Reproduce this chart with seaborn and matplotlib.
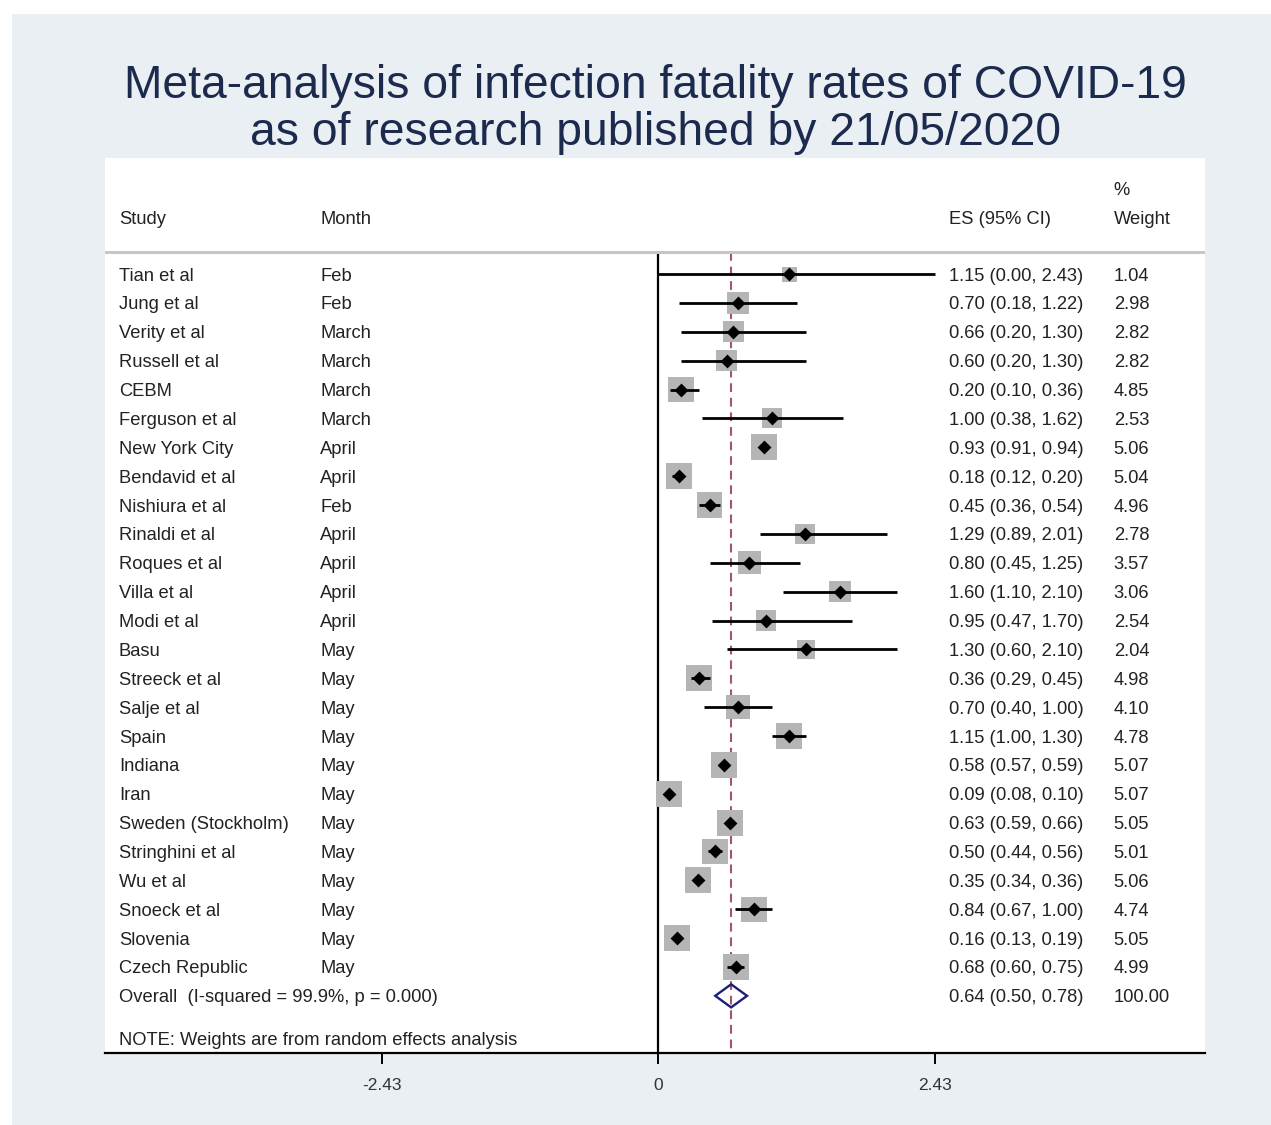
import matplotlib
matplotlib.use("Agg")
import matplotlib.pyplot as plt
import matplotlib.transforms as mtrans
import seaborn as sns
import pandas as pd
import numpy as np

# study rows, top to bottom
studies = ["Tian et al", "Jung et al", "Verity et al", "Russell et al", "CEBM",
           "Ferguson et al", "New York City", "Bendavid et al", "Nishiura et al",
           "Rinaldi et al", "Roques et al", "Villa et al", "Modi et al", "Basu",
           "Streeck et al", "Salje et al", "Spain", "Indiana", "Iran",
           "Sweden (Stockholm)", "Stringhini et al", "Wu et al", "Snoeck et al",
           "Slovenia", "Czech Republic"]
months = ["Feb", "Feb", "March", "March", "March", "March", "April", "April", "Feb",
          "April", "April", "April", "April", "May", "May", "May", "May", "May", "May",
          "May", "May", "May", "May", "May", "May"]
es = [1.15, 0.70, 0.66, 0.60, 0.20, 1.00, 0.93, 0.18, 0.45, 1.29, 0.80, 1.60, 0.95,
      1.30, 0.36, 0.70, 1.15, 0.58, 0.09, 0.63, 0.50, 0.35, 0.84, 0.16, 0.68]
ci_low = [0.00, 0.18, 0.20, 0.20, 0.10, 0.38, 0.91, 0.12, 0.36, 0.89, 0.45, 1.10, 0.47,
          0.60, 0.29, 0.40, 1.00, 0.57, 0.08, 0.59, 0.44, 0.34, 0.67, 0.13, 0.60]
ci_high = [2.43, 1.22, 1.30, 1.30, 0.36, 1.62, 0.94, 0.20, 0.54, 2.01, 1.25, 2.10, 1.70,
           2.10, 0.45, 1.00, 1.30, 0.59, 0.10, 0.66, 0.56, 0.36, 1.00, 0.19, 0.75]
weights = [1.04, 2.98, 2.82, 2.82, 4.85, 2.53, 5.06, 5.04, 4.96, 2.78, 3.57, 3.06, 2.54,
           2.04, 4.98, 4.10, 4.78, 5.07, 5.07, 5.05, 5.01, 5.06, 4.74, 5.05, 4.99]

overall_es = 0.64
overall_low = 0.50
overall_high = 0.78
overall_weight = 100.00
overall_label = "Overall  (I-squared = 99.9%, p = 0.000)"
note_text = "NOTE: Weights are from random effects analysis"
xticks = [-2.43, 0, 2.43]

df = pd.DataFrame({"study": studies, "month": months, "es": es,
                   "low": ci_low, "high": ci_high, "weight": weights})
df["row"] = np.arange(len(df))
overall_row = len(df)

sns.set_style("white")
plt.rcParams["font.family"] = ["Liberation Sans", "DejaVu Sans"]

fig = plt.figure(figsize=(12.71, 11.25), dpi=100, facecolor="white")
# light outer background (Stata graph region)
fig.patches.append(plt.Rectangle((12 / 1271, 0), 1, 1 - 14 / 1125,
                                 transform=fig.transFigure, facecolor="#e9eff2",
                                 edgecolor="none", zorder=-10))

ax = fig.add_axes([105 / 1271, 72 / 1125, 1100 / 1271, 895 / 1125])
ax.set_facecolor("white")

top_row = -4.02
bottom_row = 26.98
header_row = -0.76
ax.set_xlim(-4.87, 4.81)
ax.set_ylim(bottom_row, top_row)

# zero line and overall dashed line
ax.vlines(0, header_row, bottom_row, color="black", lw=1.6, zorder=1)
ax.vlines(overall_es, header_row, bottom_row, color="#a3566a", lw=1.5,
          linestyles=(0, (4.2, 2.8)), zorder=1)

# weight boxes
box_px = 8.96 * np.sqrt(df["weight"]) + 5.86
ax.scatter(df["es"], df["row"], s=(box_px * 0.72) ** 2, marker="s",
           color="#b5b5b5", edgecolor="none", zorder=2)

# confidence intervals
ax.hlines(df["row"], df["low"], df["high"], color="black", lw=2.0, zorder=3)

# point estimates
sns.scatterplot(data=df, x="es", y="row", marker="D", s=50, color="black",
                edgecolor="black", linewidth=0, ax=ax, zorder=4, legend=False)

# overall diamond
ax.fill([overall_low, overall_es, overall_high, overall_es],
        [overall_row, overall_row - 0.4, overall_row, overall_row + 0.4],
        facecolor="none", edgecolor="#1b1f7a", lw=1.7, zorder=4)

# header separator
ax.axhline(header_row, color="#c6c6c6", lw=2.2, zorder=1)

# text columns
tr = mtrans.blended_transform_factory(ax.transAxes, ax.transData)
fs = 13.2
dy = 0.07
col_study, col_month, col_es, col_wt = 0.0127, 0.1955, 0.767, 0.917
txt_color = "#222222"


def put(col, row, s):
    ax.text(col, row + dy, s, transform=tr, fontsize=fs, va="center", color=txt_color)


put(col_study, -1.97, "Study")
put(col_month, -1.97, "Month")
put(col_es, -1.97, "ES (95% CI)")
put(col_wt, -1.97, "Weight")
put(col_wt, -2.98, "%")

for _, r in df.iterrows():
    put(col_study, r["row"], r["study"])
    put(col_month, r["row"], r["month"])
    put(col_es, r["row"], f"{r['es']:.2f} ({r['low']:.2f}, {r['high']:.2f})")
    put(col_wt, r["row"], f"{r['weight']:.2f}")

put(col_study, overall_row, overall_label)
put(col_es, overall_row, f"{overall_es:.2f} ({overall_low:.2f}, {overall_high:.2f})")
put(col_wt, overall_row, f"{overall_weight:.2f}")
put(col_study, 26.49, note_text)

# axes styling
for side in ["top", "left", "right"]:
    ax.spines[side].set_visible(False)
ax.spines["bottom"].set_color("black")
ax.spines["bottom"].set_linewidth(1.6)
ax.set_yticks([])
ax.set_xticks(xticks)
ax.set_xticklabels([f"{t:g}" for t in xticks])
ax.tick_params(axis="x", direction="out", length=8, width=1.4, color="black",
               labelsize=12.5, labelcolor="#333333", pad=10, bottom=True)
ax.set_xlabel("")
ax.set_ylabel("")

# title
title_color = "#1c2a4e"
fig.text(655 / 1271, 1 - 98 / 1125, "Meta-analysis of infection fatality rates of COVID-19",
         ha="center", va="baseline", fontsize=33.3, color=title_color)
fig.text(655 / 1271, 1 - 145 / 1125, "as of research published by 21/05/2020",
         ha="center", va="baseline", fontsize=33.3, color=title_color)

fig.savefig("out.png", dpi=100, facecolor=fig.get_facecolor())
